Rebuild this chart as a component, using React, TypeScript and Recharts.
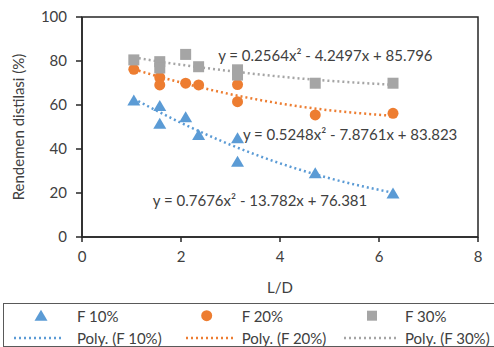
import React from 'react';
import {
  ComposedChart, XAxis, YAxis, Scatter, Line, ReferenceArea, ReferenceDot, Legend,
} from 'recharts';

const FONT = 'Lato, "Open Sans", sans-serif';
const FS = 15;

// Observed points (L/D vs rendemen distilasi %)
const LD = [1.047, 1.571, 1.571, 2.094, 2.356, 3.142, 3.142, 4.712, 6.283];
const F10 = [62, 59.5, 51.5, 54.4, 46.4, 44.9, 34.2, 29, 19.8];
const F20 = [76.2, 72.5, 69.1, 69.9, 69.1, 69.3, 61.5, 55.5, 56.2];
const F30 = [80.5, 79.7, 76.8, 83, 77.4, 76, 73.6, 69.9, 69.9];

// Trend line values
const TREND_X = [1.047, 2, 3, 4, 5, 6.283];
const TREND_F10 = [62.8, 51.9, 41.9, 33.5, 26.7, 20.1];
const TREND_F20 = [76.2, 70.2, 64.9, 60.7, 57.6, 55.1];
const TREND_F30 = [81.6, 78.3, 75.4, 72.9, 71.0, 69.2];

const X_TICKS = [0, 2, 4, 6, 8];
const Y_TICKS = [0, 20, 40, 60, 80, 100];

const EQ10 = 'y = 0.7676x² - 13.782x + 76.381';
const EQ20 = 'y = 0.5248x² - 7.8761x + 83.823';
const EQ30 = 'y = 0.2564x² - 4.2497x + 85.796';

const BLUE = '#5B9BD5';
const ORANGE = '#ED7D31';
const GRAY = '#A5A5A5';
const TEXT = '#404040';
const AXIS = '#262626';

const pts = (ys: number[]) => LD.map((x, i) => ({ x, y: ys[i] }));
const trendData = TREND_X.map((x, i) => ({ x, f10: TREND_F10[i], f20: TREND_F20[i], f30: TREND_F30[i] }));

const Tri = (p: any) => (
  <polygon points={`${p.cx},${p.cy - 6} ${p.cx - 6.5},${p.cy + 5} ${p.cx + 6.5},${p.cy + 5}`} fill={BLUE} />
);
const Circ = (p: any) => <circle cx={p.cx} cy={p.cy} r={5.5} fill={ORANGE} />;
const Sq = (p: any) => <rect x={p.cx - 5.5} y={p.cy - 5.5} width={11} height={11} fill={GRAY} />;

const eqLabel = (text: string) => (p: any) => (
  <text x={p.viewBox.x} y={p.viewBox.y} fill={TEXT} fontSize={FS} fontFamily={FONT} dominantBaseline="central">
    {text}
  </text>
);

const LegendBox = () => {
  const rowY = [11.7, 34];
  const cols = [
    { m: 37, t: 73, l1: 10, l2: 60 },
    { m: 202.7, t: 237.7, l1: 182, l2: 229 },
    { m: 368, t: 401, l1: 340, l2: 394 },
  ];
  const colors = [BLUE, ORANGE, GRAY];
  const names = ['F 10%', 'F 20%', 'F 30%'];
  const marker = (i: number, cx: number, cy: number) => {
    if (i === 0) return <polygon points={`${cx},${cy - 6} ${cx - 6.5},${cy + 5} ${cx + 6.5},${cy + 5}`} fill={BLUE} />;
    if (i === 1) return <circle cx={cx} cy={cy} r={5.5} fill={ORANGE} />;
    return <rect x={cx - 5} y={cy - 5} width={10} height={10} fill={GRAY} />;
  };
  return (
    <div style={{ position: 'relative', width: 493, height: 44, border: '1px solid #595959', boxSizing: 'border-box', background: '#fff' }}>
      <svg width={491} height={42} style={{ position: 'absolute', left: 0, top: 0 }}>
        {cols.map((c, i) => (
          <g key={i}>
            {marker(i, c.m, rowY[0])}
            <text x={c.t} y={rowY[0]} fill={TEXT} fontSize={FS} fontFamily={FONT} dominantBaseline="central">{names[i]}</text>
            <line x1={c.l1} y1={rowY[1]} x2={c.l2} y2={rowY[1]} stroke={colors[i]} strokeWidth={2.5} strokeDasharray="2 3" />
            <text x={c.t} y={rowY[1]} fill={TEXT} fontSize={FS} fontFamily={FONT} dominantBaseline="central">{`Poly. (${names[i]})`}</text>
          </g>
        ))}
      </svg>
    </div>
  );
};

const YLabel = () => {
  const cx = 18;
  const cy = 127;
  return (
    <text x={cx} y={cy} transform={`rotate(-90, ${cx}, ${cy})`} textAnchor="middle" dominantBaseline="central" fill={TEXT} fontSize={FS} fontFamily={FONT}>
      Rendemen distilasi (%)
    </text>
  );
};

export default function App() {
  const tickStyle = { fill: TEXT, fontSize: FS, fontFamily: FONT };
  return (
    <div style={{ position: 'absolute', left: 0, top: 0, width: 494, height: 347, background: '#fff' }}>
      <ComposedChart width={494} height={347} margin={{ top: 17, right: 16, left: 0, bottom: 0 }}>
        <XAxis
          type="number" dataKey="x" domain={[0, 8]} ticks={X_TICKS} allowDataOverflow
          height={66} tickSize={5} tickMargin={9} tick={tickStyle}
          axisLine={{ stroke: AXIS, strokeWidth: 1.5 }} tickLine={{ stroke: AXIS, strokeWidth: 1.5 }}
          label={{ value: 'L/D', position: 'insideBottom', offset: 10, fill: TEXT, fontSize: FS, fontFamily: FONT }}
        />
        <YAxis
          type="number" domain={[0, 100]} ticks={Y_TICKS} width={82} tickSize={6} tickMargin={9} tick={tickStyle}
          axisLine={{ stroke: AXIS, strokeWidth: 1.5 }} tickLine={{ stroke: AXIS, strokeWidth: 1.5 }}
          label={<YLabel />}
        />
        <ReferenceArea x1={0} x2={8} y1={0} y2={100} fill="none" stroke={AXIS} strokeWidth={1.5} />
        <Line data={trendData} dataKey="f30" type="monotone" stroke={GRAY} strokeWidth={2.5} strokeDasharray="2 3" dot={false} isAnimationActive={false} />
        <Line data={trendData} dataKey="f20" type="monotone" stroke={ORANGE} strokeWidth={2.5} strokeDasharray="2 3" dot={false} isAnimationActive={false} />
        <Line data={trendData} dataKey="f10" type="monotone" stroke={BLUE} strokeWidth={2.5} strokeDasharray="2 3" dot={false} isAnimationActive={false} />
        <Scatter data={pts(F10)} dataKey="y" shape={Tri} isAnimationActive={false} />
        <Scatter data={pts(F20)} dataKey="y" shape={Circ} isAnimationActive={false} />
        <Scatter data={pts(F30)} dataKey="y" shape={Sq} isAnimationActive={false} />
        <ReferenceDot x={2.75} y={82.7} r={0} fill="none" stroke="none" label={eqLabel(EQ30)} />
        <ReferenceDot x={3.25} y={46.8} r={0} fill="none" stroke="none" label={eqLabel(EQ20)} />
        <ReferenceDot x={1.43} y={16.8} r={0} fill="none" stroke="none" label={eqLabel(EQ10)} />
        <Legend verticalAlign="bottom" align="left" wrapperStyle={{ left: 3, bottom: 0, width: 493 }} content={() => <LegendBox />} />
      </ComposedChart>
    </div>
  );
}
